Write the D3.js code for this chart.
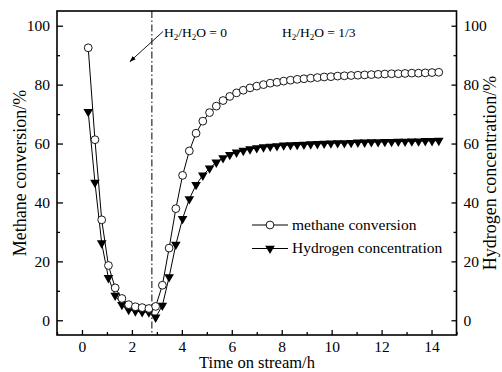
<!DOCTYPE html>
<html lang="en">

<head>
    <meta charset="UTF-8">
    <title>Methane conversion and hydrogen concentration</title>
    <script src="https://d3js.org/d3.v7.min.js"></script>
    <style>
        body {
            margin: 0;
            background: #fff;
        }
    </style>
</head>

<body>
    <div id="chart"></div>

    <script>
        // time on stream (h)
        const times = [0.25, 0.52, 0.79, 1.06, 1.33, 1.60, 1.87, 2.14, 2.41, 2.68,
            2.95, 3.22, 3.49, 3.76, 4.03, 4.30, 4.57, 4.84, 5.11, 5.38,
            5.65, 5.92, 6.19, 6.46, 6.73, 7.00, 7.27, 7.54, 7.81, 8.08,
            8.35, 8.62, 8.89, 9.16, 9.43, 9.70, 9.97, 10.24, 10.51, 10.78,
            11.05, 11.32, 11.59, 11.86, 12.13, 12.40, 12.67, 12.94, 13.21, 13.48,
            13.75, 14.02, 14.29];

        // methane conversion (%)
        const methane = [92.5, 61.3, 34.1, 18.6, 11.0, 7.4, 5.3, 4.6, 4.3, 4.0,
            4.7, 11.9, 24.5, 37.9, 49.2, 57.5, 63.5, 67.6, 70.5, 72.7,
            74.6, 76.0, 77.2, 78.1, 78.9, 79.5, 80.0, 80.5, 80.8, 81.2,
            81.5, 81.8, 82.0, 82.2, 82.4, 82.6, 82.7, 82.9, 83.0, 83.1,
            83.2, 83.3, 83.4, 83.5, 83.6, 83.7, 83.7, 83.8, 83.9, 83.9,
            84.0, 84.1, 84.2];

        // hydrogen concentration (%)
        const hydrogen = [70.8, 46.8, 26.2, 14.4, 8.4, 5.3, 3.6, 3.1, 2.8, 2.7,
            1.0, 5.0, 14.7, 25.7, 34.5, 41.2, 46.0, 49.2, 51.6, 53.6,
            55.1, 56.2, 57.0, 57.6, 58.1, 58.5, 58.8, 59.0, 59.2, 59.4,
            59.5, 59.6, 59.7, 59.8, 59.9, 60.0, 60.1, 60.2, 60.2, 60.3,
            60.4, 60.4, 60.5, 60.5, 60.6, 60.6, 60.7, 60.7, 60.8, 60.8,
            60.9, 60.9, 61.0];

        const xTicks = [0, 2, 4, 6, 8, 10, 12, 14];
        const xMinor = [-1, 1, 3, 5, 7, 9, 11, 13, 15];
        const yTicks = [0, 20, 40, 60, 80, 100];
        const yMinor = [10, 30, 50, 70, 90];
        const switchTime = 2.8;

        const seriesNames = ["methane conversion", "Hydrogen concentration"];

        const width = 502;
        const height = 372;
        const marginTop = 11;
        const marginRight = 45.5;
        const marginBottom = 37;
        const marginLeft = 57;
        const serif = "'Liberation Serif', 'Times New Roman', Times, 'DejaVu Serif', serif";

        const x = d3.scaleLinear()
            .domain([-1, 15])
            .range([marginLeft, width - marginRight]);

        const y = d3.scaleLinear()
            .domain([-5, 105])
            .range([height - marginBottom, marginTop]);

        const svg = d3.select("#chart")
            .append("svg")
            .attr("width", width)
            .attr("height", height)
            .attr("font-family", serif);

        // axes, ticks pointing inward
        function styleAxis(g) {
            g.attr("font-family", serif);
            g.select(".domain").remove();
            g.selectAll("line").attr("stroke", "#000").attr("stroke-width", 1.3);
            g.selectAll("text")
                .style("font-family", serif)
                .style("font-size", "15.5px")
                .attr("fill", "#000");
        }

        svg.append("g")
            .attr("transform", `translate(0,${height - marginBottom})`)
            .call(d3.axisBottom(x).tickValues(xTicks).tickSize(-5).tickPadding(5.5))
            .call(styleAxis);
        svg.append("g")
            .attr("transform", `translate(0,${height - marginBottom})`)
            .call(d3.axisBottom(x).tickValues(xMinor).tickSize(-3).tickFormat(""))
            .call(styleAxis);

        svg.append("g")
            .attr("transform", `translate(${marginLeft},0)`)
            .call(d3.axisLeft(y).tickValues(yTicks).tickSize(-6).tickPadding(7))
            .call(styleAxis);
        svg.append("g")
            .attr("transform", `translate(${marginLeft},0)`)
            .call(d3.axisLeft(y).tickValues(yMinor).tickSize(-3).tickFormat(""))
            .call(styleAxis);

        svg.append("g")
            .attr("transform", `translate(${width - marginRight},0)`)
            .call(d3.axisRight(y).tickValues(yTicks).tickSize(-5).tickPadding(7))
            .call(styleAxis);
        svg.append("g")
            .attr("transform", `translate(${width - marginRight},0)`)
            .call(d3.axisRight(y).tickValues(yMinor).tickSize(-3).tickFormat(""))
            .call(styleAxis);

        // frame
        svg.append("rect")
            .attr("x", marginLeft)
            .attr("y", marginTop)
            .attr("width", width - marginLeft - marginRight)
            .attr("height", height - marginTop - marginBottom)
            .attr("fill", "none")
            .attr("stroke", "#000")
            .attr("stroke-width", 1.6);

        // dash-dot switch line
        svg.append("line")
            .attr("x1", x(switchTime))
            .attr("x2", x(switchTime))
            .attr("y1", marginTop)
            .attr("y2", height - marginBottom)
            .attr("stroke", "#000")
            .attr("stroke-width", 1)
            .attr("stroke-dasharray", "7,2.5,1.5,2.5");

        const line = d3.line()
            .x((d, i) => x(times[i]))
            .y(d => y(d));

        const triangle = d3.symbol().type(d3.symbolTriangle).size(40);

        // hydrogen
        svg.append("path")
            .datum(hydrogen)
            .attr("fill", "none")
            .attr("stroke", "#000")
            .attr("stroke-width", 1)
            .attr("d", line);
        svg.append("g")
            .selectAll("path")
            .data(hydrogen)
            .join("path")
            .attr("d", triangle)
            .attr("transform", (d, i) => `translate(${x(times[i])},${y(d)}) rotate(180)`)
            .attr("fill", "#000");

        // methane
        svg.append("path")
            .datum(methane)
            .attr("fill", "none")
            .attr("stroke", "#000")
            .attr("stroke-width", 1)
            .attr("d", line);
        svg.append("g")
            .selectAll("circle")
            .data(methane)
            .join("circle")
            .attr("cx", (d, i) => x(times[i]))
            .attr("cy", d => y(d))
            .attr("r", 3.9)
            .attr("fill", "#fff")
            .attr("stroke", "#000")
            .attr("stroke-width", 0.9);

        function addText(sel) {
            return sel.append("text")
                .style("font-family", serif)
                .attr("fill", "#000");
        }

        // axis titles
        addText(svg)
            .attr("x", 257)
            .attr("y", 368.3)
            .attr("text-anchor", "middle")
            .style("font-size", "16.5px")
            .text("Time on stream/h");

        addText(svg)
            .attr("transform", `translate(26,${(marginTop + height - marginBottom) / 2}) rotate(-90)`)
            .attr("text-anchor", "middle")
            .style("font-size", "18px")
            .text("Methane conversion/%");

        addText(svg)
            .attr("transform", `translate(496,${(marginTop + height - marginBottom) / 2}) rotate(-90)`)
            .attr("text-anchor", "middle")
            .style("font-size", "18px")
            .text("Hydrogen concentration/%");

        // H2/H2O labels
        function ratioLabel(px, py, tail) {
            const t = addText(svg)
                .attr("x", px)
                .attr("y", py)
                .style("font-size", "13.5px");
            t.append("tspan").text("H");
            t.append("tspan").attr("dy", 3).style("font-size", "9px").text("2");
            t.append("tspan").attr("dy", -3).text("/H");
            t.append("tspan").attr("dy", 3).style("font-size", "9px").text("2");
            t.append("tspan").attr("dy", -3).text("O = " + tail);
        }
        ratioLabel(164, 37, "0");
        ratioLabel(282, 37, "1/3");

        // arrow
        svg.append("defs").append("marker")
            .attr("id", "arrow")
            .attr("viewBox", "0 0 10 10")
            .attr("refX", 9)
            .attr("refY", 5)
            .attr("markerWidth", 7)
            .attr("markerHeight", 7)
            .attr("orient", "auto")
            .append("path")
            .attr("d", "M0,1.5L10,5L0,8.5Z")
            .attr("fill", "#000");
        svg.append("line")
            .attr("x1", 163)
            .attr("y1", 31.5)
            .attr("x2", 130)
            .attr("y2", 61.5)
            .attr("stroke", "#000")
            .attr("stroke-width", 0.9)
            .attr("marker-end", "url(#arrow)");

        // legend
        const legend = svg.append("g");
        const rows = [{ y: 225, name: seriesNames[0] }, { y: 248.5, name: seriesNames[1] }];
        rows.forEach((r, i) => {
            legend.append("line")
                .attr("x1", 252).attr("x2", 288)
                .attr("y1", r.y).attr("y2", r.y)
                .attr("stroke", "#000").attr("stroke-width", 1);
            if (i === 0) {
                legend.append("circle")
                    .attr("cx", 270).attr("cy", r.y).attr("r", 3.9)
                    .attr("fill", "#fff").attr("stroke", "#000").attr("stroke-width", 0.9);
            } else {
                legend.append("path")
                    .attr("d", triangle)
                    .attr("transform", `translate(270,${r.y}) rotate(180)`)
                    .attr("fill", "#000");
            }
            addText(legend)
                .attr("x", 292)
                .attr("y", r.y + 4.5)
                .style("font-size", "15.5px")
                .text(r.name);
        });
    </script>
</body>

</html>
